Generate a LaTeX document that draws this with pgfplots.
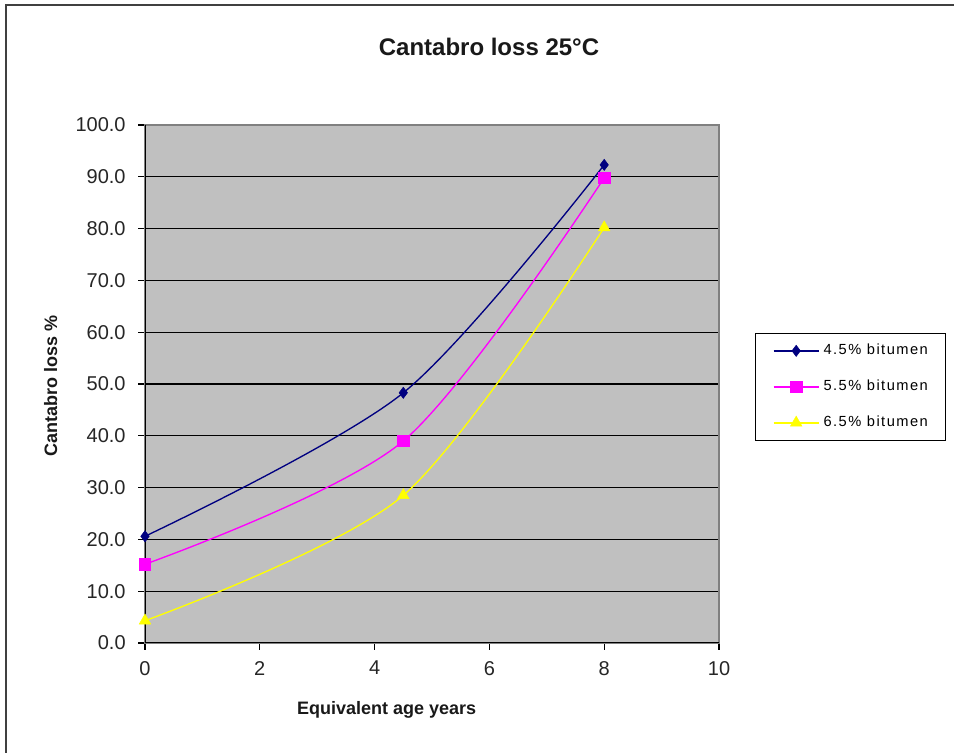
\documentclass[border=0pt]{standalone}
\usepackage{pgfplots}
\pgfplotsset{compat=1.18}
\usepackage{fontspec}
\setmainfont{Liberation Sans}
\definecolor{plotgray}{HTML}{C0C0C0}
\definecolor{navyc}{HTML}{000080}
\definecolor{magc}{HTML}{FF00FF}
\definecolor{yelc}{HTML}{FFFF00}
\begin{document}
\begin{tikzpicture}
\useasboundingbox (0,0) rectangle (715.5pt,564.75pt);
\fill[white] (0,0) rectangle (715.5pt,564.75pt);
\draw[line width=1.4pt, black!75] (4.5pt,-5pt) -- (4.5pt,561pt) -- (720pt,561pt);
\begin{axis}[
  at={(108.75pt,82.5pt)}, anchor=south west,
  scale only axis, width=430.5pt, height=388.5pt,
  xmin=0, xmax=10, ymin=0, ymax=100,
  xtick={0,2,...,10}, ytick={0,10,...,100},
  tick align=outside, tick pos=left, major tick length=5pt,
  tick style={black, line width=0.8pt},
  ymajorgrids, major grid style={black, line width=0.9pt},
  axis background/.style={fill=plotgray},
  axis line style={draw=black!50, line width=0.8pt},
  /pgf/number format/assume math mode=true,
  ticklabel style={font=\fontsize{15}{17}\selectfont, text=black!85},
  y tick label style={xshift=-6pt, /pgf/number format/.cd, fixed, fixed zerofill, precision=1},
  x tick label style={yshift=-5pt, /pgf/number format/.cd, fixed, precision=0},
  legend style={at={(1.0627,0.5985)}, anchor=north west, draw=black, line width=0.8pt,
    font=\addfontfeatures{LetterSpace=10}\fontsize{11}{13}\selectfont,
    inner xsep=13pt, inner ysep=8pt, row sep=17pt, column sep=3pt,
    nodes={inner sep=0pt, text height=8pt, text depth=2pt}},
  legend cell align=left,
  legend image code/.code={\draw[mark repeat=2,mark phase=2,#1] plot coordinates {(0pt,0pt) (17pt,0pt) (34pt,0pt)};},
]
\addplot[navyc, line width=1pt, smooth, mark=diamond*, mark size=4.2pt, mark options={fill=navyc, draw=navyc, line width=0.4pt}]
  coordinates {(0,20.6) (4.5,48.3) (8,92.3)};
\addlegendentry{4.5\% bitumen}
\addplot[magc, line width=1pt, smooth, mark=square*, mark size=4.3pt, mark options={fill=magc, draw=magc, line width=0.4pt}]
  coordinates {(0,15.2) (4.5,39.0) (8,89.8)};
\addlegendentry{5.5\% bitumen}
\addplot[yelc, line width=1pt, smooth, mark=triangle*, mark size=5pt, mark options={fill=yelc, draw=yelc, line width=0.4pt}]
  coordinates {(0,4.3) (4.5,28.5) (8,80.2)};
\addlegendentry{6.5\% bitumen}
\draw[black, line width=0.9pt] (rel axis cs:0,1) -- (rel axis cs:0,0) -- (rel axis cs:1,0);
\end{axis}
\node[font=\bfseries\fontsize{18}{20}\selectfont, text=black!90] at (366.75pt,529.5pt) {Cantabro loss 25°C};
\node[font=\bfseries\fontsize{13.5}{15}\selectfont, text=black!90] at (290pt,32.25pt) {Equivalent age years};
\node[font=\bfseries\fontsize{13.5}{15}\selectfont, text=black!90, rotate=90] at (38pt,275.25pt) {Cantabro loss \%};
\end{tikzpicture}
\end{document}
